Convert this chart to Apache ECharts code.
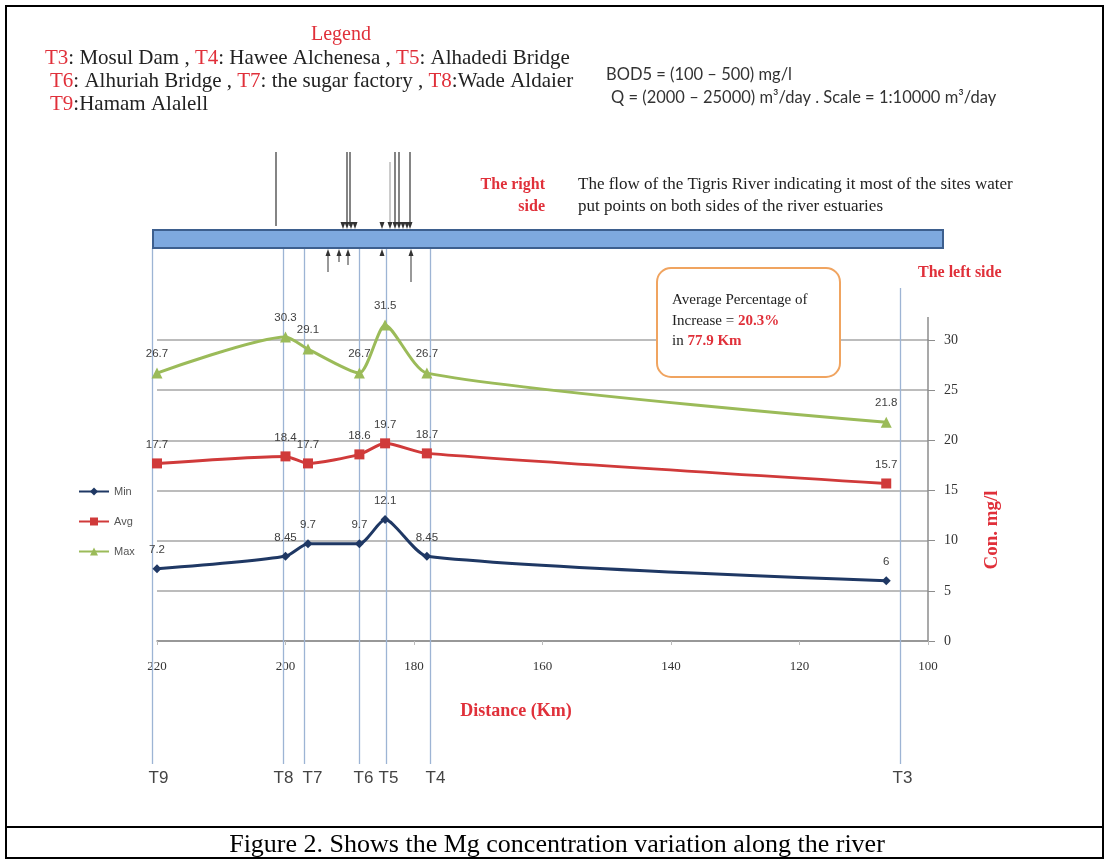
<!DOCTYPE html>
<html><head><meta charset="utf-8">
<script src="https://cdn.jsdelivr.net/npm/echarts@6/dist/echarts.min.js"></script>
<style>html,body{margin:0;padding:0;background:#fff}#c{width:1109px;height:861px}</style>
</head><body><div id="c"></div>
<script>
// ---- data ----
const stations = ['T9', 'T8', 'T7', 'T6', 'T5', 'T4', 'T3'];
const distanceKm = [220, 200, 196.5, 188.5, 184.5, 178, 106.5];
const stationLineKm = [220.8, 200.4, 197.1, 188.6, 184.4, 177.5, 104.4];
const minVals = [7.2, 8.45, 9.7, 9.7, 12.1, 8.45, 6];
const avgVals = [17.7, 18.4, 17.7, 18.6, 19.7, 18.7, 15.7];
const maxVals = [26.7, 30.3, 29.1, 26.7, 31.5, 26.7, 21.8];
const seriesNames = ['Min', 'Avg', 'Max'];
const xTickRange = [100, 220, 20];
const yTickRange = [0, 30, 5];

// label nudges (layout only)
const stationLabelDx = [6, 0, 8, 4, 2, 5, 2];

const SERIF = "'Liberation Serif', 'Times New Roman', serif";
const SANS = "'Liberation Sans', Arial, sans-serif";
const RED = '#e0303a';

const pairs = vals => distanceKm.map((d, i) => [d, vals[i]]);
const lbl = {show: true, position: 'top', distance: 8, fontSize: 11.5, color: '#404040', fontFamily: SANS};

const chart = echarts.init(document.getElementById('c'));
chart.setOption({
  backgroundColor: '#fff',
  animation: false,
  grid: {left: 157, right: 181, top: 340, bottom: 220},
  legend: {
    orient: 'vertical', left: 73, top: 481, itemGap: 19, itemWidth: 30, itemHeight: 10,
    textStyle: {fontSize: 11, color: '#555', fontFamily: SANS}, data: seriesNames
  },
  xAxis: {
    type: 'value', inverse: true, min: xTickRange[0], max: xTickRange[1], interval: xTickRange[2],
    axisLine: {lineStyle: {color: '#8c8c8c', width: 1.5}},
    axisTick: {show: true, length: 4, lineStyle: {color: '#bbb'}},
    axisLabel: {margin: 19, fontSize: 13, color: '#333', fontFamily: SERIF},
    splitLine: {show: false}
  },
  yAxis: {
    type: 'value', position: 'right', min: yTickRange[0], max: yTickRange[1], interval: yTickRange[2],
    axisLine: {show: true, lineStyle: {color: '#8c8c8c', width: 1.5}},
    axisTick: {show: true, inside: false, length: 7, lineStyle: {color: '#8c8c8c'}},
    axisLabel: {margin: 16, fontSize: 14, color: '#333', fontFamily: SERIF},
    splitLine: {show: true, lineStyle: {color: '#a6a6a6', width: 1.5}}
  },
  series: [
    {name: seriesNames[0], type: 'line', data: pairs(minVals), smooth: 0.22, clip: false, symbol: 'diamond', symbolSize: 9,
     lineStyle: {color: '#1f3864', width: 3}, itemStyle: {color: '#1f3864'}, label: lbl, z: 5},
    {name: seriesNames[1], type: 'line', data: pairs(avgVals), smooth: 0.22, clip: false, symbol: 'rect', symbolSize: 10,
     lineStyle: {color: '#d03a3a', width: 3}, itemStyle: {color: '#d03a3a'}, label: lbl, z: 5},
    {name: seriesNames[2], type: 'line', data: pairs(maxVals), smooth: 0.22, clip: false, symbol: 'triangle', symbolSize: 11,
     lineStyle: {color: '#9bbb59', width: 3}, itemStyle: {color: '#9bbb59'}, label: lbl, z: 5}
  ]
});

// ---- annotations ----
const px = km => chart.convertToPixel({xAxisIndex: 0}, km);
const py = v => chart.convertToPixel({yAxisIndex: 0}, v);
const els = [];
const txt = (text, x, y, font, fill, align, extra) => els.push(Object.assign({
  type: 'text', z: 50,
  style: {text, x, y, font, fill, textAlign: align || 'left', textVerticalAlign: 'middle', verticalAlign: 'middle'}
}, extra || {}));

// frame
els.push({type: 'rect', z: 0, shape: {x: 6, y: 6, width: 1097, height: 852}, style: {fill: 'none', stroke: '#000', lineWidth: 2}});
els.push({type: 'line', z: 0, shape: {x1: 6, y1: 827, x2: 1103, y2: 827}, style: {stroke: '#000', lineWidth: 2}});
txt('Figure 2. Shows the Mg concentration variation along the river', 557, 845, '26px ' + SERIF, '#000', 'center');

// top legend
txt('Legend', 341, 35, '20px ' + SERIF, RED, 'center');
const richRed = {r: {fill: RED, color: RED, font: '21px ' + SERIF}, b: {fill: '#222', color: '#222', font: '21px ' + SERIF}};
const legendRows = [
  ['{r|T3}{b|: Mosul Dam , }{r|T4}{b|: Hawee Alchenesa , }{r|T5}{b|: Alhadedi Bridge}', 45, 58],
  ['{r|T6}{b|: Alhuriah Bridge , }{r|T7}{b|: the sugar factory , }{r|T8}{b|:Wade Aldaier}', 50, 81],
  ['{r|T9}{b|:Hamam Alalell}', 50, 104]
];
legendRows.forEach(r => els.push({type: 'text', z: 50, style: {text: r[0], x: r[1], y: r[2], rich: richRed,
  font: '21px ' + SERIF, fill: '#222', textVerticalAlign: 'middle', verticalAlign: 'middle'}}));

// right notes
txt('BOD5 = (100 \u2013 500) mg/l', 606, 75, '16.5px Lato, ' + SANS, '#333');
txt('Q = (2000 \u2013 25000) m\u00B3/day . Scale = 1:10000 m\u00B3/day', 611, 98, '16.5px Lato, ' + SANS, '#333');
txt('The right', 545, 185, 'bold 16px ' + SERIF, RED, 'right');
txt('side', 545, 207, 'bold 16px ' + SERIF, RED, 'right');
txt('The flow of the Tigris River indicating it most of the sites water', 578, 185, '17px ' + SERIF, '#222');
txt('put points on both sides of the river estuaries', 578, 207, '17px ' + SERIF, '#222');
txt('The left side', 918, 273, 'bold 16px ' + SERIF, RED);

// river bar
els.push({type: 'rect', z: 20, shape: {x: 153, y: 230, width: 790, height: 18},
  style: {fill: '#7ea9df', stroke: '#3d5f8e', lineWidth: 2}});

// arrows (decorative flow markers)
const arrowDown = [[276, 152], [347, 152], [350, 152], [390, 162], [395, 152], [399, 152], [410, 152]];
const headsDown = [343, 347, 351, 355, 382, 390, 395, 399, 403, 407, 410];
const arrowUp = [[328, 272], [339, 262], [348, 265], [382, 256], [411, 282]];
arrowDown.forEach(a => els.push({type: 'line', z: 20, shape: {x1: a[0], y1: a[1], x2: a[0], y2: 226},
  style: {stroke: a[1] > 155 ? '#aaa' : '#333', lineWidth: 1.2}}));
headsDown.forEach(x => els.push({type: 'polygon', z: 20, shape: {points: [[x - 2.5, 222], [x + 2.5, 222], [x, 229]]}, style: {fill: '#333'}}));
arrowUp.forEach(a => {
  els.push({type: 'line', z: 20, shape: {x1: a[0], y1: a[1], x2: a[0], y2: 252}, style: {stroke: '#555', lineWidth: 1.2}});
  els.push({type: 'polygon', z: 20, shape: {points: [[a[0] - 2.5, 256], [a[0] + 2.5, 256], [a[0], 249]]}, style: {fill: '#333'}});
});

// station lines and labels
stationLineKm.forEach((km, i) => {
  const x = Math.round(px(km)) + 0.5;
  const top = stations[i] === 'T3' ? 288 : 248;
  els.push({type: 'line', z: 1, shape: {x1: x, y1: top, x2: x, y2: 764}, style: {stroke: '#9db4d4', lineWidth: 1.3}});
  txt(stations[i], x + stationLabelDx[i], 778, '17px ' + SANS, '#444', 'center');
});

// y-axis extension above top tick
const yTop = py(yTickRange[1]);
els.push({type: 'line', z: 3, shape: {x1: px(xTickRange[0]), y1: yTop - 23, x2: px(xTickRange[0]), y2: yTop}, style: {stroke: '#8c8c8c', lineWidth: 1.5}});

// axis titles
txt('Distance (Km)', 516, 711, 'bold 18px ' + SERIF, RED, 'center');
els.push({type: 'text', z: 50, x: 992, y: 530, rotation: Math.PI / 2,
  style: {text: 'Con. mg/l', x: 0, y: 0, font: 'bold 19px ' + SERIF, fill: RED, textAlign: 'center', textVerticalAlign: 'middle', verticalAlign: 'middle'}});

// info box
els.push({type: 'rect', z: 60, shape: {x: 657, y: 268, width: 183, height: 109, r: 14},
  style: {fill: '#fff', stroke: '#f0a460', lineWidth: 2}});
const richBox = {b: {fill: '#222', color: '#222', font: '15px ' + SERIF}, r: {fill: RED, color: RED, font: 'bold 15px ' + SERIF}};
[['{b|Average Percentage of}', 300], ['{b|Increase = }{r|20.3%}', 321], ['{b|in }{r|77.9 Km}', 341]].forEach(r =>
  els.push({type: 'text', z: 61, style: {text: r[0], x: 672, y: r[1], rich: richBox, font: '15px ' + SERIF,
    textVerticalAlign: 'middle', verticalAlign: 'middle'}}));

chart.setOption({graphic: {elements: els}});
</script></body></html>
